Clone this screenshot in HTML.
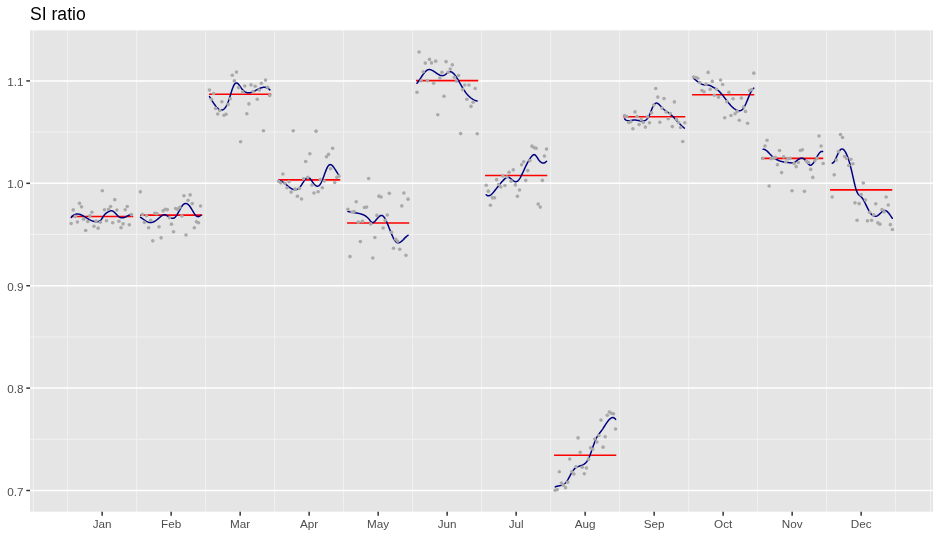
<!DOCTYPE html>
<html><head><meta charset="utf-8"><style>
html,body{margin:0;padding:0;background:#fff;}
svg{display:block;}
.ax{font-family:"Liberation Sans",Arial,sans-serif;font-size:11.7px;fill:#4D4D4D;}
.title{font-family:"Liberation Sans",Arial,sans-serif;font-size:17.6px;fill:#000;}
</style></head><body>
<svg width="940" height="537" viewBox="0 0 940 537">
<rect width="940" height="537" fill="#fff"/>
<rect x="30.0" y="30.4" width="903.0" height="481.3" fill="#E5E5E5"/>
<line x1="30.0" x2="933.0" y1="439.30" y2="439.30" stroke="#F2F2F2" stroke-width="1.0"/>
<line x1="30.0" x2="933.0" y1="336.91" y2="336.91" stroke="#F2F2F2" stroke-width="1.0"/>
<line x1="30.0" x2="933.0" y1="234.53" y2="234.53" stroke="#F2F2F2" stroke-width="1.0"/>
<line x1="30.0" x2="933.0" y1="132.13" y2="132.13" stroke="#F2F2F2" stroke-width="1.0"/>
<line x1="33.40" x2="33.40" y1="30.4" y2="511.7" stroke="#F2F2F2" stroke-width="1.0"/>
<line x1="67.65" x2="67.65" y1="30.4" y2="511.7" stroke="#F2F2F2" stroke-width="1.0"/>
<line x1="136.65" x2="136.65" y1="30.4" y2="511.7" stroke="#F2F2F2" stroke-width="1.0"/>
<line x1="205.65" x2="205.65" y1="30.4" y2="511.7" stroke="#F2F2F2" stroke-width="1.0"/>
<line x1="274.65" x2="274.65" y1="30.4" y2="511.7" stroke="#F2F2F2" stroke-width="1.0"/>
<line x1="343.65" x2="343.65" y1="30.4" y2="511.7" stroke="#F2F2F2" stroke-width="1.0"/>
<line x1="412.65" x2="412.65" y1="30.4" y2="511.7" stroke="#F2F2F2" stroke-width="1.0"/>
<line x1="481.65" x2="481.65" y1="30.4" y2="511.7" stroke="#F2F2F2" stroke-width="1.0"/>
<line x1="550.65" x2="550.65" y1="30.4" y2="511.7" stroke="#F2F2F2" stroke-width="1.0"/>
<line x1="619.65" x2="619.65" y1="30.4" y2="511.7" stroke="#F2F2F2" stroke-width="1.0"/>
<line x1="688.65" x2="688.65" y1="30.4" y2="511.7" stroke="#F2F2F2" stroke-width="1.0"/>
<line x1="757.65" x2="757.65" y1="30.4" y2="511.7" stroke="#F2F2F2" stroke-width="1.0"/>
<line x1="826.65" x2="826.65" y1="30.4" y2="511.7" stroke="#F2F2F2" stroke-width="1.0"/>
<line x1="895.65" x2="895.65" y1="30.4" y2="511.7" stroke="#F2F2F2" stroke-width="1.0"/>
<line x1="930.40" x2="930.40" y1="30.4" y2="511.7" stroke="#F2F2F2" stroke-width="1.0"/>
<line x1="30.0" x2="933.0" y1="490.50" y2="490.50" stroke="#fff" stroke-width="1.5"/>
<line x1="30.0" x2="933.0" y1="388.11" y2="388.11" stroke="#fff" stroke-width="1.5"/>
<line x1="30.0" x2="933.0" y1="285.72" y2="285.72" stroke="#fff" stroke-width="1.5"/>
<line x1="30.0" x2="933.0" y1="183.33" y2="183.33" stroke="#fff" stroke-width="1.5"/>
<line x1="30.0" x2="933.0" y1="80.94" y2="80.94" stroke="#fff" stroke-width="1.5"/>
<line x1="71.05" x2="133.25" y1="216.57" y2="216.57" stroke="#FF0000" stroke-width="1.6"/>
<line x1="140.05" x2="202.25" y1="215.10" y2="215.10" stroke="#FF0000" stroke-width="1.6"/>
<line x1="209.05" x2="271.25" y1="94.32" y2="94.32" stroke="#FF0000" stroke-width="1.6"/>
<line x1="278.05" x2="340.25" y1="179.89" y2="179.89" stroke="#FF0000" stroke-width="1.6"/>
<line x1="347.05" x2="409.25" y1="223.02" y2="223.02" stroke="#FF0000" stroke-width="1.6"/>
<line x1="416.05" x2="478.25" y1="80.59" y2="80.59" stroke="#FF0000" stroke-width="1.6"/>
<line x1="485.05" x2="547.25" y1="175.49" y2="175.49" stroke="#FF0000" stroke-width="1.6"/>
<line x1="554.05" x2="616.25" y1="455.21" y2="455.21" stroke="#FF0000" stroke-width="1.6"/>
<line x1="623.05" x2="685.25" y1="116.73" y2="116.73" stroke="#FF0000" stroke-width="1.6"/>
<line x1="692.05" x2="754.25" y1="94.68" y2="94.68" stroke="#FF0000" stroke-width="1.6"/>
<line x1="761.05" x2="823.25" y1="158.40" y2="158.40" stroke="#FF0000" stroke-width="1.6"/>
<line x1="830.05" x2="892.25" y1="189.83" y2="189.83" stroke="#FF0000" stroke-width="1.6"/>
<path d="M71.17,217.45 L71.68,216.86 L72.19,216.33 L72.69,215.86 L73.20,215.45 L73.71,215.10 L74.22,214.80 L74.72,214.55 L75.23,214.35 L75.74,214.19 L76.25,214.08 L76.76,214.02 L77.26,213.99 L77.77,214.00 L78.28,214.05 L78.79,214.13 L79.30,214.24 L79.80,214.38 L80.31,214.55 L80.82,214.74 L81.33,214.95 L81.83,215.19 L82.34,215.44 L82.85,215.71 L83.36,215.99 L83.87,216.28 L84.37,216.59 L84.88,216.90 L85.39,217.21 L85.90,217.53 L86.40,217.84 L86.91,218.16 L87.42,218.47 L87.93,218.77 L88.44,219.07 L88.94,219.35 L89.45,219.63 L89.96,219.89 L90.47,220.14 L90.98,220.38 L91.48,220.60 L91.99,220.80 L92.50,220.98 L93.01,221.15 L93.51,221.30 L94.02,221.42 L94.53,221.53 L95.04,221.61 L95.55,221.67 L96.05,221.70 L96.56,221.70 L97.07,221.68 L97.58,221.63 L98.09,221.55 L98.59,221.43 L99.10,221.25 L99.61,221.01 L100.12,220.67 L100.62,220.23 L101.13,219.67 L101.64,219.00 L102.15,218.26 L102.66,217.47 L103.16,216.68 L103.67,215.92 L104.18,215.23 L104.69,214.61 L105.19,214.07 L105.70,213.59 L106.21,213.17 L106.72,212.78 L107.23,212.44 L107.73,212.12 L108.24,211.82 L108.75,211.53 L109.26,211.27 L109.77,211.05 L110.27,210.88 L110.78,210.77 L111.29,210.72 L111.80,210.76 L112.30,210.89 L112.81,211.11 L113.32,211.41 L113.83,211.79 L114.34,212.22 L114.84,212.70 L115.35,213.21 L115.86,213.75 L116.37,214.30 L116.87,214.84 L117.38,215.37 L117.89,215.87 L118.40,216.33 L118.91,216.74 L119.41,217.09 L119.92,217.37 L120.43,217.58 L120.94,217.73 L121.45,217.82 L121.95,217.85 L122.46,217.84 L122.97,217.78 L123.48,217.68 L123.98,217.54 L124.49,217.38 L125.00,217.18 L125.51,216.96 L126.02,216.73 L126.52,216.48 L127.03,216.22 L127.54,215.96 L128.05,215.69 L128.56,215.44 L129.06,215.18 L129.57,214.95 L130.08,214.73 L130.59,214.53 L131.09,214.36 L131.60,214.22" fill="none" stroke="#000080" stroke-width="1.5" stroke-linejoin="round" stroke-linecap="round"/>
<path d="M140.50,217.28 L141.01,217.61 L141.52,217.95 L142.02,218.30 L142.53,218.66 L143.04,219.02 L143.54,219.39 L144.05,219.75 L144.56,220.10 L145.06,220.45 L145.57,220.78 L146.07,221.10 L146.58,221.39 L147.09,221.66 L147.59,221.90 L148.10,222.12 L148.61,222.29 L149.11,222.43 L149.62,222.53 L150.13,222.58 L150.63,222.59 L151.14,222.55 L151.65,222.47 L152.15,222.36 L152.66,222.20 L153.16,222.01 L153.67,221.78 L154.18,221.53 L154.68,221.25 L155.19,220.94 L155.70,220.61 L156.20,220.26 L156.71,219.89 L157.22,219.50 L157.72,219.10 L158.23,218.68 L158.74,218.26 L159.24,217.83 L159.75,217.40 L160.26,216.96 L160.76,216.53 L161.27,216.13 L161.77,215.75 L162.28,215.42 L162.79,215.13 L163.29,214.90 L163.80,214.75 L164.31,214.67 L164.81,214.69 L165.32,214.80 L165.83,214.99 L166.33,215.24 L166.84,215.54 L167.35,215.87 L167.85,216.22 L168.36,216.56 L168.87,216.90 L169.37,217.21 L169.88,217.50 L170.38,217.76 L170.89,217.98 L171.40,218.14 L171.90,218.25 L172.41,218.30 L172.92,218.28 L173.42,218.18 L173.93,218.00 L174.44,217.72 L174.94,217.34 L175.45,216.86 L175.96,216.27 L176.46,215.58 L176.97,214.81 L177.47,213.98 L177.98,213.09 L178.49,212.17 L178.99,211.24 L179.50,210.29 L180.01,209.36 L180.51,208.45 L181.02,207.58 L181.53,206.77 L182.03,206.02 L182.54,205.36 L183.05,204.80 L183.55,204.34 L184.06,203.98 L184.57,203.72 L185.07,203.55 L185.58,203.48 L186.08,203.50 L186.59,203.61 L187.10,203.80 L187.60,204.09 L188.11,204.45 L188.62,204.90 L189.12,205.43 L189.63,206.04 L190.14,206.73 L190.64,207.48 L191.15,208.29 L191.66,209.13 L192.16,210.00 L192.67,210.87 L193.18,211.73 L193.68,212.57 L194.19,213.37 L194.69,214.12 L195.20,214.79 L195.71,215.38 L196.21,215.87 L196.72,216.24 L197.23,216.49 L197.73,216.62 L198.24,216.64 L198.75,216.56 L199.25,216.38 L199.76,216.10 L200.27,215.75 L200.77,215.31" fill="none" stroke="#000080" stroke-width="1.5" stroke-linejoin="round" stroke-linecap="round"/>
<path d="M209.52,96.58 L210.03,97.41 L210.53,98.24 L211.04,99.06 L211.55,99.89 L212.05,100.70 L212.56,101.51 L213.07,102.30 L213.58,103.07 L214.08,103.82 L214.59,104.55 L215.10,105.25 L215.60,105.91 L216.11,106.54 L216.62,107.13 L217.12,107.68 L217.63,108.18 L218.14,108.63 L218.64,109.03 L219.15,109.37 L219.66,109.65 L220.16,109.86 L220.67,110.01 L221.18,110.08 L221.69,110.08 L222.19,110.00 L222.70,109.84 L223.21,109.59 L223.71,109.25 L224.22,108.82 L224.73,108.30 L225.23,107.67 L225.74,106.94 L226.25,106.10 L226.75,105.15 L227.26,104.09 L227.77,102.91 L228.27,101.61 L228.78,100.18 L229.29,98.65 L229.80,97.05 L230.30,95.41 L230.81,93.76 L231.32,92.13 L231.82,90.55 L232.33,89.06 L232.84,87.68 L233.34,86.44 L233.85,85.38 L234.36,84.49 L234.86,83.79 L235.37,83.30 L235.88,83.01 L236.39,82.92 L236.89,83.01 L237.40,83.26 L237.91,83.65 L238.41,84.14 L238.92,84.73 L239.43,85.39 L239.93,86.10 L240.44,86.83 L240.95,87.57 L241.45,88.29 L241.96,88.96 L242.47,89.58 L242.97,90.14 L243.48,90.63 L243.99,91.07 L244.50,91.46 L245.00,91.79 L245.51,92.06 L246.02,92.30 L246.52,92.48 L247.03,92.62 L247.54,92.72 L248.04,92.78 L248.55,92.80 L249.06,92.79 L249.56,92.74 L250.07,92.66 L250.58,92.56 L251.09,92.43 L251.59,92.27 L252.10,92.09 L252.61,91.90 L253.11,91.69 L253.62,91.46 L254.13,91.22 L254.63,90.97 L255.14,90.71 L255.65,90.45 L256.15,90.18 L256.66,89.91 L257.17,89.64 L257.67,89.38 L258.18,89.12 L258.69,88.87 L259.20,88.63 L259.70,88.40 L260.21,88.18 L260.72,87.99 L261.22,87.81 L261.73,87.65 L262.24,87.52 L262.74,87.41 L263.25,87.33 L263.76,87.28 L264.26,87.26 L264.77,87.28 L265.28,87.33 L265.78,87.43 L266.29,87.57 L266.80,87.74 L267.31,87.97 L267.81,88.24 L268.32,88.57 L268.83,88.95 L269.33,89.38 L269.84,89.87" fill="none" stroke="#000080" stroke-width="1.5" stroke-linejoin="round" stroke-linecap="round"/>
<path d="M278.75,180.40 L279.25,180.47 L279.76,180.60 L280.26,180.76 L280.77,180.96 L281.27,181.19 L281.78,181.46 L282.28,181.75 L282.79,182.07 L283.29,182.41 L283.80,182.77 L284.30,183.15 L284.81,183.54 L285.31,183.94 L285.82,184.35 L286.32,184.76 L286.82,185.18 L287.33,185.59 L287.83,186.01 L288.34,186.41 L288.84,186.81 L289.35,187.19 L289.85,187.56 L290.36,187.90 L290.86,188.23 L291.37,188.53 L291.87,188.81 L292.38,189.06 L292.88,189.27 L293.39,189.44 L293.89,189.58 L294.40,189.68 L294.90,189.73 L295.40,189.73 L295.91,189.69 L296.41,189.59 L296.92,189.43 L297.42,189.21 L297.93,188.93 L298.43,188.59 L298.94,188.18 L299.44,187.69 L299.95,187.14 L300.45,186.50 L300.96,185.81 L301.46,185.06 L301.97,184.27 L302.47,183.46 L302.98,182.65 L303.48,181.84 L303.98,181.06 L304.49,180.31 L304.99,179.62 L305.50,179.00 L306.00,178.46 L306.51,178.01 L307.01,177.68 L307.52,177.48 L308.02,177.42 L308.53,177.51 L309.03,177.76 L309.54,178.14 L310.04,178.62 L310.55,179.20 L311.05,179.85 L311.56,180.55 L312.06,181.27 L312.56,182.00 L313.07,182.71 L313.57,183.39 L314.08,184.01 L314.58,184.57 L315.09,185.07 L315.59,185.48 L316.10,185.81 L316.60,186.05 L317.11,186.18 L317.61,186.21 L318.12,186.12 L318.62,185.91 L319.13,185.57 L319.63,185.08 L320.14,184.46 L320.64,183.68 L321.14,182.75 L321.65,181.71 L322.15,180.56 L322.66,179.32 L323.16,178.01 L323.67,176.65 L324.17,175.26 L324.68,173.86 L325.18,172.48 L325.69,171.14 L326.19,169.87 L326.70,168.69 L327.20,167.62 L327.71,166.69 L328.21,165.92 L328.72,165.33 L329.22,164.92 L329.72,164.68 L330.23,164.59 L330.73,164.65 L331.24,164.85 L331.74,165.16 L332.25,165.58 L332.75,166.09 L333.26,166.68 L333.76,167.34 L334.27,168.06 L334.77,168.82 L335.28,169.61 L335.78,170.41 L336.29,171.23 L336.79,172.03 L337.30,172.81 L337.80,173.56 L338.30,174.27 L338.81,174.91" fill="none" stroke="#000080" stroke-width="1.5" stroke-linejoin="round" stroke-linecap="round"/>
<path d="M347.95,211.47 L348.46,211.59 L348.96,211.69 L349.47,211.80 L349.97,211.89 L350.48,211.98 L350.98,212.07 L351.49,212.16 L351.99,212.24 L352.50,212.32 L353.00,212.40 L353.51,212.48 L354.01,212.56 L354.52,212.64 L355.02,212.73 L355.53,212.81 L356.03,212.90 L356.54,212.99 L357.04,213.08 L357.55,213.18 L358.05,213.28 L358.56,213.39 L359.06,213.50 L359.57,213.62 L360.07,213.75 L360.58,213.89 L361.08,214.04 L361.59,214.19 L362.09,214.36 L362.60,214.54 L363.10,214.74 L363.61,214.95 L364.11,215.19 L364.62,215.46 L365.12,215.75 L365.63,216.07 L366.13,216.42 L366.64,216.81 L367.14,217.24 L367.65,217.71 L368.15,218.22 L368.66,218.77 L369.16,219.38 L369.67,220.03 L370.17,220.69 L370.68,221.31 L371.18,221.86 L371.69,222.29 L372.19,222.55 L372.70,222.63 L373.20,222.53 L373.71,222.29 L374.21,221.92 L374.72,221.47 L375.22,220.94 L375.73,220.37 L376.23,219.78 L376.74,219.18 L377.24,218.58 L377.75,218.00 L378.25,217.45 L378.76,216.93 L379.26,216.47 L379.77,216.08 L380.27,215.77 L380.78,215.55 L381.28,215.43 L381.79,215.44 L382.29,215.57 L382.80,215.86 L383.30,216.28 L383.81,216.83 L384.31,217.50 L384.82,218.28 L385.32,219.15 L385.83,220.12 L386.33,221.16 L386.84,222.27 L387.34,223.44 L387.85,224.65 L388.35,225.90 L388.86,227.18 L389.36,228.47 L389.87,229.76 L390.37,231.05 L390.88,232.32 L391.38,233.57 L391.89,234.78 L392.39,235.94 L392.90,237.04 L393.40,238.07 L393.91,239.03 L394.41,239.89 L394.92,240.66 L395.42,241.31 L395.93,241.85 L396.43,242.26 L396.94,242.56 L397.44,242.75 L397.95,242.84 L398.45,242.84 L398.96,242.75 L399.46,242.59 L399.97,242.36 L400.47,242.06 L400.98,241.71 L401.48,241.32 L401.99,240.88 L402.49,240.41 L403.00,239.92 L403.50,239.41 L404.01,238.89 L404.51,238.37 L405.02,237.85 L405.52,237.34 L406.03,236.86 L406.53,236.40 L407.04,235.98 L407.54,235.61 L408.05,235.28" fill="none" stroke="#000080" stroke-width="1.5" stroke-linejoin="round" stroke-linecap="round"/>
<path d="M416.95,83.32 L417.46,82.68 L417.96,82.01 L418.47,81.30 L418.97,80.58 L419.48,79.83 L419.98,79.07 L420.49,78.30 L420.99,77.54 L421.50,76.77 L422.00,76.02 L422.51,75.28 L423.01,74.56 L423.52,73.87 L424.02,73.20 L424.53,72.58 L425.03,72.00 L425.54,71.47 L426.04,71.00 L426.55,70.58 L427.05,70.23 L427.56,69.96 L428.06,69.76 L428.57,69.63 L429.07,69.56 L429.58,69.56 L430.08,69.62 L430.59,69.73 L431.09,69.89 L431.60,70.09 L432.10,70.32 L432.61,70.59 L433.11,70.88 L433.62,71.20 L434.12,71.53 L434.63,71.87 L435.13,72.22 L435.64,72.58 L436.14,72.93 L436.65,73.28 L437.15,73.61 L437.66,73.94 L438.16,74.25 L438.67,74.53 L439.17,74.80 L439.68,75.03 L440.18,75.23 L440.69,75.40 L441.19,75.53 L441.70,75.61 L442.20,75.64 L442.71,75.62 L443.21,75.55 L443.72,75.41 L444.22,75.21 L444.73,74.95 L445.23,74.63 L445.74,74.27 L446.24,73.88 L446.75,73.48 L447.25,73.09 L447.76,72.72 L448.26,72.39 L448.77,72.11 L449.27,71.90 L449.78,71.77 L450.28,71.74 L450.79,71.79 L451.29,71.93 L451.80,72.16 L452.30,72.46 L452.81,72.83 L453.31,73.27 L453.82,73.77 L454.32,74.33 L454.83,74.94 L455.33,75.60 L455.84,76.31 L456.34,77.05 L456.85,77.84 L457.35,78.65 L457.86,79.49 L458.36,80.35 L458.87,81.23 L459.37,82.12 L459.88,83.02 L460.38,83.92 L460.89,84.82 L461.39,85.71 L461.90,86.60 L462.40,87.47 L462.91,88.32 L463.41,89.15 L463.92,89.95 L464.42,90.71 L464.93,91.45 L465.43,92.15 L465.94,92.83 L466.44,93.47 L466.95,94.09 L467.45,94.67 L467.96,95.23 L468.46,95.76 L468.97,96.26 L469.47,96.74 L469.98,97.19 L470.48,97.61 L470.99,98.01 L471.49,98.38 L472.00,98.73 L472.50,99.06 L473.01,99.36 L473.51,99.63 L474.02,99.89 L474.52,100.12 L475.03,100.33 L475.53,100.52 L476.04,100.69 L476.54,100.84 L477.05,100.97" fill="none" stroke="#000080" stroke-width="1.5" stroke-linejoin="round" stroke-linecap="round"/>
<path d="M486.20,194.76 L486.70,195.20 L487.21,195.51 L487.72,195.71 L488.23,195.80 L488.73,195.80 L489.24,195.70 L489.75,195.52 L490.25,195.26 L490.76,194.93 L491.27,194.54 L491.78,194.09 L492.28,193.59 L492.79,193.04 L493.30,192.47 L493.80,191.86 L494.31,191.23 L494.82,190.59 L495.33,189.94 L495.83,189.29 L496.34,188.64 L496.85,187.98 L497.36,187.33 L497.86,186.69 L498.37,186.04 L498.88,185.41 L499.38,184.77 L499.89,184.15 L500.40,183.54 L500.91,182.94 L501.41,182.34 L501.92,181.77 L502.43,181.20 L502.93,180.66 L503.44,180.13 L503.95,179.62 L504.46,179.12 L504.96,178.66 L505.47,178.24 L505.98,177.87 L506.49,177.57 L506.99,177.34 L507.50,177.20 L508.01,177.16 L508.51,177.24 L509.02,177.43 L509.53,177.73 L510.04,178.09 L510.54,178.50 L511.05,178.93 L511.56,179.37 L512.06,179.79 L512.57,180.19 L513.08,180.56 L513.59,180.90 L514.09,181.19 L514.60,181.42 L515.11,181.58 L515.61,181.66 L516.12,181.66 L516.63,181.56 L517.14,181.35 L517.64,181.02 L518.15,180.58 L518.66,180.02 L519.17,179.37 L519.67,178.62 L520.18,177.80 L520.69,176.90 L521.19,175.94 L521.70,174.93 L522.21,173.88 L522.72,172.80 L523.22,171.70 L523.73,170.59 L524.24,169.48 L524.74,168.37 L525.25,167.28 L525.76,166.22 L526.27,165.19 L526.77,164.18 L527.28,163.20 L527.79,162.26 L528.29,161.35 L528.80,160.48 L529.31,159.65 L529.82,158.86 L530.32,158.11 L530.83,157.41 L531.34,156.75 L531.85,156.15 L532.35,155.60 L532.86,155.14 L533.37,154.79 L533.87,154.61 L534.38,154.63 L534.89,154.82 L535.40,155.19 L535.90,155.70 L536.41,156.35 L536.92,157.10 L537.42,157.89 L537.93,158.70 L538.44,159.48 L538.95,160.18 L539.45,160.81 L539.96,161.36 L540.47,161.84 L540.98,162.24 L541.48,162.56 L541.99,162.80 L542.50,162.96 L543.00,163.04 L543.51,163.04 L544.02,162.96 L544.53,162.79 L545.03,162.54 L545.54,162.21 L546.05,161.78 L546.55,161.27" fill="none" stroke="#000080" stroke-width="1.5" stroke-linejoin="round" stroke-linecap="round"/>
<path d="M555.22,486.91 L555.72,486.68 L556.23,486.49 L556.74,486.33 L557.25,486.20 L557.76,486.08 L558.26,485.98 L558.77,485.89 L559.28,485.81 L559.79,485.72 L560.29,485.63 L560.80,485.52 L561.31,485.39 L561.82,485.24 L562.33,485.06 L562.83,484.84 L563.34,484.58 L563.85,484.28 L564.36,483.92 L564.86,483.51 L565.37,483.03 L565.88,482.49 L566.39,481.87 L566.90,481.17 L567.40,480.39 L567.91,479.55 L568.42,478.66 L568.93,477.73 L569.43,476.78 L569.94,475.82 L570.45,474.87 L570.96,473.93 L571.46,473.02 L571.97,472.16 L572.48,471.36 L572.99,470.64 L573.50,469.98 L574.00,469.40 L574.51,468.88 L575.02,468.42 L575.53,468.01 L576.03,467.65 L576.54,467.34 L577.05,467.06 L577.56,466.81 L578.07,466.59 L578.57,466.39 L579.08,466.21 L579.59,466.04 L580.10,465.87 L580.60,465.71 L581.11,465.53 L581.62,465.35 L582.13,465.16 L582.64,464.94 L583.14,464.69 L583.65,464.42 L584.16,464.10 L584.67,463.73 L585.17,463.31 L585.68,462.83 L586.19,462.28 L586.70,461.66 L587.21,460.95 L587.71,460.15 L588.22,459.25 L588.73,458.25 L589.24,457.13 L589.74,455.91 L590.25,454.60 L590.76,453.22 L591.27,451.79 L591.78,450.32 L592.28,448.83 L592.79,447.33 L593.30,445.85 L593.81,444.40 L594.31,443.00 L594.82,441.66 L595.33,440.41 L595.84,439.25 L596.35,438.20 L596.85,437.25 L597.36,436.39 L597.87,435.59 L598.38,434.84 L598.88,434.13 L599.39,433.45 L599.90,432.79 L600.41,432.13 L600.92,431.46 L601.42,430.78 L601.93,430.08 L602.44,429.34 L602.95,428.59 L603.45,427.81 L603.96,427.02 L604.47,426.23 L604.98,425.43 L605.49,424.64 L605.99,423.86 L606.50,423.10 L607.01,422.37 L607.52,421.66 L608.02,420.99 L608.53,420.36 L609.04,419.78 L609.55,419.26 L610.06,418.79 L610.56,418.39 L611.07,418.07 L611.58,417.82 L612.09,417.65 L612.59,417.58 L613.10,417.60 L613.61,417.72 L614.12,417.96 L614.63,418.31 L615.13,418.77 L615.64,419.37" fill="none" stroke="#000080" stroke-width="1.5" stroke-linejoin="round" stroke-linecap="round"/>
<path d="M624.61,118.91 L625.12,119.39 L625.62,119.80 L626.12,120.12 L626.62,120.37 L627.13,120.55 L627.63,120.68 L628.13,120.75 L628.63,120.78 L629.13,120.77 L629.64,120.72 L630.14,120.66 L630.64,120.57 L631.14,120.47 L631.65,120.37 L632.15,120.27 L632.65,120.18 L633.15,120.10 L633.66,120.05 L634.16,120.02 L634.66,120.02 L635.16,120.04 L635.67,120.09 L636.17,120.15 L636.67,120.22 L637.17,120.31 L637.68,120.40 L638.18,120.50 L638.68,120.60 L639.18,120.70 L639.68,120.79 L640.19,120.88 L640.69,120.95 L641.19,121.01 L641.69,121.05 L642.20,121.07 L642.70,121.07 L643.20,121.03 L643.70,120.96 L644.21,120.85 L644.71,120.69 L645.21,120.46 L645.71,120.16 L646.22,119.79 L646.72,119.34 L647.22,118.79 L647.72,118.14 L648.23,117.38 L648.73,116.51 L649.23,115.51 L649.73,114.39 L650.24,113.17 L650.74,111.90 L651.24,110.62 L651.74,109.35 L652.24,108.14 L652.75,107.03 L653.25,106.04 L653.75,105.18 L654.25,104.47 L654.76,103.90 L655.26,103.49 L655.76,103.23 L656.26,103.11 L656.77,103.12 L657.27,103.26 L657.77,103.49 L658.27,103.81 L658.78,104.21 L659.28,104.67 L659.78,105.17 L660.28,105.71 L660.79,106.27 L661.29,106.83 L661.79,107.38 L662.29,107.91 L662.79,108.41 L663.30,108.87 L663.80,109.31 L664.30,109.73 L664.80,110.12 L665.31,110.50 L665.81,110.86 L666.31,111.22 L666.81,111.57 L667.32,111.92 L667.82,112.28 L668.32,112.64 L668.82,113.00 L669.33,113.39 L669.83,113.78 L670.33,114.20 L670.83,114.64 L671.34,115.10 L671.84,115.57 L672.34,116.05 L672.84,116.55 L673.35,117.06 L673.85,117.58 L674.35,118.11 L674.85,118.65 L675.35,119.19 L675.86,119.74 L676.36,120.28 L676.86,120.83 L677.36,121.38 L677.87,121.93 L678.37,122.47 L678.87,123.00 L679.37,123.53 L679.88,124.05 L680.38,124.56 L680.88,125.06 L681.38,125.55 L681.89,126.02 L682.39,126.47 L682.89,126.91 L683.39,127.32 L683.90,127.72 L684.40,128.10" fill="none" stroke="#000080" stroke-width="1.5" stroke-linejoin="round" stroke-linecap="round"/>
<path d="M693.61,78.36 L694.12,78.78 L694.62,79.19 L695.13,79.61 L695.64,80.02 L696.14,80.42 L696.65,80.82 L697.15,81.22 L697.66,81.60 L698.16,81.97 L698.67,82.32 L699.17,82.66 L699.68,82.99 L700.19,83.29 L700.69,83.58 L701.20,83.84 L701.70,84.07 L702.21,84.29 L702.71,84.47 L703.22,84.62 L703.72,84.74 L704.23,84.83 L704.74,84.89 L705.24,84.92 L705.75,84.94 L706.25,84.95 L706.76,84.96 L707.26,84.98 L707.77,85.01 L708.28,85.07 L708.78,85.15 L709.29,85.28 L709.79,85.45 L710.30,85.66 L710.80,85.91 L711.31,86.18 L711.81,86.46 L712.32,86.73 L712.83,87.01 L713.33,87.29 L713.84,87.57 L714.34,87.86 L714.85,88.15 L715.35,88.46 L715.86,88.79 L716.36,89.12 L716.87,89.48 L717.38,89.86 L717.88,90.26 L718.39,90.68 L718.89,91.13 L719.40,91.61 L719.90,92.12 L720.41,92.65 L720.91,93.21 L721.42,93.79 L721.93,94.39 L722.43,95.01 L722.94,95.64 L723.44,96.29 L723.95,96.94 L724.45,97.60 L724.96,98.26 L725.46,98.92 L725.97,99.58 L726.48,100.24 L726.98,100.89 L727.49,101.54 L727.99,102.17 L728.50,102.79 L729.00,103.40 L729.51,104.00 L730.02,104.58 L730.52,105.15 L731.03,105.69 L731.53,106.22 L732.04,106.72 L732.54,107.20 L733.05,107.66 L733.55,108.10 L734.06,108.50 L734.57,108.88 L735.07,109.23 L735.58,109.55 L736.08,109.84 L736.59,110.09 L737.09,110.31 L737.60,110.49 L738.10,110.63 L738.61,110.72 L739.12,110.76 L739.62,110.75 L740.13,110.67 L740.63,110.53 L741.14,110.32 L741.64,110.03 L742.15,109.66 L742.65,109.19 L743.16,108.61 L743.67,107.91 L744.17,107.10 L744.68,106.19 L745.18,105.19 L745.69,104.11 L746.19,102.98 L746.70,101.80 L747.21,100.59 L747.71,99.36 L748.22,98.12 L748.72,96.89 L749.23,95.69 L749.73,94.53 L750.24,93.41 L750.74,92.36 L751.25,91.38 L751.76,90.50 L752.26,89.72 L752.77,89.06 L753.27,88.54 L753.78,88.16" fill="none" stroke="#000080" stroke-width="1.5" stroke-linejoin="round" stroke-linecap="round"/>
<path d="M763.12,149.32 L763.62,149.30 L764.12,149.36 L764.62,149.51 L765.12,149.72 L765.62,150.00 L766.12,150.34 L766.62,150.73 L767.12,151.15 L767.62,151.62 L768.12,152.11 L768.62,152.63 L769.12,153.15 L769.62,153.69 L770.12,154.22 L770.62,154.74 L771.12,155.25 L771.62,155.74 L772.12,156.21 L772.62,156.66 L773.12,157.08 L773.63,157.49 L774.13,157.87 L774.63,158.23 L775.13,158.58 L775.63,158.91 L776.13,159.21 L776.63,159.50 L777.13,159.78 L777.63,160.03 L778.13,160.27 L778.63,160.49 L779.13,160.70 L779.63,160.89 L780.13,161.07 L780.63,161.23 L781.13,161.38 L781.63,161.51 L782.13,161.64 L782.63,161.75 L783.13,161.85 L783.63,161.95 L784.13,162.03 L784.63,162.11 L785.13,162.19 L785.63,162.26 L786.13,162.32 L786.63,162.38 L787.13,162.44 L787.63,162.49 L788.13,162.55 L788.63,162.60 L789.13,162.66 L789.63,162.72 L790.13,162.78 L790.63,162.83 L791.13,162.87 L791.63,162.89 L792.13,162.89 L792.64,162.85 L793.14,162.77 L793.64,162.65 L794.14,162.47 L794.64,162.23 L795.14,161.93 L795.64,161.58 L796.14,161.20 L796.64,160.80 L797.14,160.40 L797.64,160.02 L798.14,159.65 L798.64,159.30 L799.14,158.99 L799.64,158.71 L800.14,158.48 L800.64,158.31 L801.14,158.19 L801.64,158.13 L802.14,158.15 L802.64,158.24 L803.14,158.42 L803.64,158.70 L804.14,159.07 L804.64,159.53 L805.14,160.08 L805.64,160.68 L806.14,161.31 L806.64,161.97 L807.14,162.61 L807.64,163.23 L808.14,163.80 L808.64,164.30 L809.14,164.71 L809.64,165.00 L810.14,165.17 L810.64,165.18 L811.14,165.04 L811.65,164.75 L812.15,164.34 L812.65,163.82 L813.15,163.20 L813.65,162.50 L814.15,161.73 L814.65,160.91 L815.15,160.04 L815.65,159.15 L816.15,158.25 L816.65,157.36 L817.15,156.48 L817.65,155.63 L818.15,154.82 L818.65,154.06 L819.15,153.37 L819.65,152.76 L820.15,152.25 L820.65,151.84 L821.15,151.54 L821.65,151.38 L822.15,151.36 L822.65,151.50" fill="none" stroke="#000080" stroke-width="1.5" stroke-linejoin="round" stroke-linecap="round"/>
<path d="M832.22,163.18 L832.72,163.07 L833.23,162.74 L833.73,162.21 L834.24,161.51 L834.74,160.67 L835.25,159.71 L835.76,158.67 L836.26,157.56 L836.77,156.43 L837.27,155.29 L837.78,154.17 L838.28,153.10 L838.79,152.10 L839.29,151.21 L839.80,150.45 L840.30,149.85 L840.81,149.40 L841.31,149.12 L841.82,148.98 L842.32,148.99 L842.83,149.14 L843.33,149.44 L843.84,149.86 L844.34,150.42 L844.85,151.10 L845.36,151.90 L845.86,152.82 L846.37,153.85 L846.87,154.99 L847.38,156.23 L847.88,157.58 L848.39,159.03 L848.89,160.59 L849.40,162.26 L849.90,164.04 L850.41,165.94 L850.91,167.95 L851.42,170.04 L851.92,172.20 L852.43,174.41 L852.93,176.65 L853.44,178.89 L853.94,181.12 L854.45,183.29 L854.95,185.37 L855.46,187.31 L855.97,189.08 L856.47,190.63 L856.98,191.94 L857.48,193.00 L857.99,193.83 L858.49,194.49 L859.00,195.02 L859.50,195.46 L860.01,195.85 L860.51,196.24 L861.02,196.66 L861.52,197.16 L862.03,197.76 L862.53,198.46 L863.04,199.25 L863.54,200.11 L864.05,201.03 L864.55,202.00 L865.06,203.01 L865.57,204.05 L866.07,205.10 L866.58,206.15 L867.08,207.19 L867.59,208.21 L868.09,209.20 L868.60,210.15 L869.10,211.04 L869.61,211.86 L870.11,212.61 L870.62,213.30 L871.12,213.92 L871.63,214.46 L872.13,214.94 L872.64,215.35 L873.14,215.69 L873.65,215.96 L874.15,216.16 L874.66,216.29 L875.16,216.35 L875.67,216.34 L876.18,216.26 L876.68,216.10 L877.19,215.88 L877.69,215.58 L878.20,215.23 L878.70,214.82 L879.21,214.38 L879.71,213.91 L880.22,213.42 L880.72,212.94 L881.23,212.46 L881.73,212.01 L882.24,211.60 L882.74,211.23 L883.25,210.92 L883.75,210.68 L884.26,210.52 L884.76,210.46 L885.27,210.50 L885.78,210.65 L886.28,210.90 L886.79,211.24 L887.29,211.66 L887.80,212.15 L888.30,212.70 L888.81,213.31 L889.31,213.96 L889.82,214.65 L890.32,215.36 L890.83,216.09 L891.33,216.83 L891.84,217.57 L892.34,218.30" fill="none" stroke="#000080" stroke-width="1.5" stroke-linejoin="round" stroke-linecap="round"/>
<g fill="#A9A9A9"><circle cx="71.15" cy="223.53" r="1.8"/><circle cx="73.23" cy="209.91" r="1.8"/><circle cx="75.30" cy="216.36" r="1.8"/><circle cx="77.38" cy="222.00" r="1.8"/><circle cx="79.46" cy="203.35" r="1.8"/><circle cx="81.54" cy="206.84" r="1.8"/><circle cx="83.62" cy="219.23" r="1.8"/><circle cx="85.69" cy="230.50" r="1.8"/><circle cx="87.77" cy="221.48" r="1.8"/><circle cx="89.85" cy="215.85" r="1.8"/><circle cx="91.93" cy="212.26" r="1.8"/><circle cx="94.00" cy="226.30" r="1.8"/><circle cx="96.08" cy="220.97" r="1.8"/><circle cx="98.16" cy="228.14" r="1.8"/><circle cx="100.24" cy="222.20" r="1.8"/><circle cx="102.32" cy="190.75" r="1.8"/><circle cx="104.39" cy="209.70" r="1.8"/><circle cx="106.47" cy="220.77" r="1.8"/><circle cx="108.55" cy="209.19" r="1.8"/><circle cx="110.63" cy="206.43" r="1.8"/><circle cx="112.70" cy="222.81" r="1.8"/><circle cx="114.78" cy="199.67" r="1.8"/><circle cx="116.86" cy="210.01" r="1.8"/><circle cx="118.94" cy="221.28" r="1.8"/><circle cx="121.02" cy="227.63" r="1.8"/><circle cx="123.09" cy="223.84" r="1.8"/><circle cx="125.17" cy="209.70" r="1.8"/><circle cx="127.25" cy="206.43" r="1.8"/><circle cx="129.33" cy="224.76" r="1.8"/><circle cx="131.41" cy="214.62" r="1.8"/><circle cx="140.31" cy="191.86" r="1.8"/><circle cx="142.39" cy="214.49" r="1.8"/><circle cx="144.47" cy="222.36" r="1.8"/><circle cx="146.54" cy="215.70" r="1.8"/><circle cx="148.62" cy="227.80" r="1.8"/><circle cx="150.70" cy="220.18" r="1.8"/><circle cx="152.78" cy="240.87" r="1.8"/><circle cx="154.85" cy="213.28" r="1.8"/><circle cx="156.93" cy="213.64" r="1.8"/><circle cx="159.01" cy="226.84" r="1.8"/><circle cx="161.08" cy="237.85" r="1.8"/><circle cx="163.16" cy="210.86" r="1.8"/><circle cx="165.24" cy="209.29" r="1.8"/><circle cx="167.32" cy="209.65" r="1.8"/><circle cx="169.39" cy="217.76" r="1.8"/><circle cx="171.47" cy="224.17" r="1.8"/><circle cx="173.55" cy="231.80" r="1.8"/><circle cx="175.62" cy="208.44" r="1.8"/><circle cx="177.70" cy="209.41" r="1.8"/><circle cx="179.78" cy="207.23" r="1.8"/><circle cx="181.86" cy="216.06" r="1.8"/><circle cx="183.93" cy="195.73" r="1.8"/><circle cx="186.01" cy="235.06" r="1.8"/><circle cx="188.09" cy="200.33" r="1.8"/><circle cx="190.16" cy="194.89" r="1.8"/><circle cx="192.24" cy="203.60" r="1.8"/><circle cx="194.32" cy="227.80" r="1.8"/><circle cx="196.40" cy="221.75" r="1.8"/><circle cx="198.47" cy="222.72" r="1.8"/><circle cx="200.55" cy="206.02" r="1.8"/><circle cx="209.44" cy="90.00" r="1.8"/><circle cx="211.52" cy="99.28" r="1.8"/><circle cx="213.59" cy="93.52" r="1.8"/><circle cx="215.67" cy="108.40" r="1.8"/><circle cx="217.75" cy="114.00" r="1.8"/><circle cx="219.83" cy="110.48" r="1.8"/><circle cx="221.90" cy="101.68" r="1.8"/><circle cx="223.98" cy="115.28" r="1.8"/><circle cx="226.06" cy="114.32" r="1.8"/><circle cx="228.14" cy="104.40" r="1.8"/><circle cx="230.21" cy="98.80" r="1.8"/><circle cx="232.29" cy="75.28" r="1.8"/><circle cx="234.37" cy="80.88" r="1.8"/><circle cx="236.45" cy="72.08" r="1.8"/><circle cx="238.52" cy="87.60" r="1.8"/><circle cx="240.60" cy="141.68" r="1.8"/><circle cx="242.68" cy="91.92" r="1.8"/><circle cx="244.76" cy="86.00" r="1.8"/><circle cx="246.83" cy="113.68" r="1.8"/><circle cx="248.91" cy="103.92" r="1.8"/><circle cx="250.99" cy="84.88" r="1.8"/><circle cx="253.07" cy="91.60" r="1.8"/><circle cx="255.14" cy="86.32" r="1.8"/><circle cx="257.22" cy="99.28" r="1.8"/><circle cx="259.30" cy="90.00" r="1.8"/><circle cx="261.38" cy="83.28" r="1.8"/><circle cx="263.45" cy="130.80" r="1.8"/><circle cx="265.53" cy="80.08" r="1.8"/><circle cx="267.61" cy="87.28" r="1.8"/><circle cx="269.69" cy="95.60" r="1.8"/><circle cx="278.71" cy="181.38" r="1.8"/><circle cx="280.78" cy="182.87" r="1.8"/><circle cx="282.86" cy="173.93" r="1.8"/><circle cx="284.94" cy="183.31" r="1.8"/><circle cx="287.01" cy="187.79" r="1.8"/><circle cx="289.09" cy="181.82" r="1.8"/><circle cx="291.16" cy="192.11" r="1.8"/><circle cx="293.24" cy="130.71" r="1.8"/><circle cx="295.31" cy="189.13" r="1.8"/><circle cx="297.39" cy="196.28" r="1.8"/><circle cx="299.46" cy="188.38" r="1.8"/><circle cx="301.54" cy="198.96" r="1.8"/><circle cx="303.62" cy="178.84" r="1.8"/><circle cx="305.69" cy="161.56" r="1.8"/><circle cx="307.77" cy="177.35" r="1.8"/><circle cx="309.84" cy="153.81" r="1.8"/><circle cx="311.92" cy="185.10" r="1.8"/><circle cx="313.99" cy="193.00" r="1.8"/><circle cx="316.07" cy="131.15" r="1.8"/><circle cx="318.14" cy="191.81" r="1.8"/><circle cx="320.22" cy="179.59" r="1.8"/><circle cx="322.30" cy="187.79" r="1.8"/><circle cx="324.37" cy="180.93" r="1.8"/><circle cx="326.45" cy="156.79" r="1.8"/><circle cx="328.52" cy="154.40" r="1.8"/><circle cx="330.60" cy="168.71" r="1.8"/><circle cx="332.67" cy="148.29" r="1.8"/><circle cx="334.75" cy="182.57" r="1.8"/><circle cx="336.82" cy="177.35" r="1.8"/><circle cx="338.90" cy="176.16" r="1.8"/><circle cx="347.92" cy="209.24" r="1.8"/><circle cx="350.00" cy="256.60" r="1.8"/><circle cx="352.07" cy="212.06" r="1.8"/><circle cx="354.14" cy="211.53" r="1.8"/><circle cx="356.21" cy="201.81" r="1.8"/><circle cx="358.29" cy="222.14" r="1.8"/><circle cx="360.36" cy="241.58" r="1.8"/><circle cx="362.43" cy="221.25" r="1.8"/><circle cx="364.50" cy="207.47" r="1.8"/><circle cx="366.58" cy="207.12" r="1.8"/><circle cx="368.65" cy="178.48" r="1.8"/><circle cx="370.72" cy="223.91" r="1.8"/><circle cx="372.79" cy="258.02" r="1.8"/><circle cx="374.87" cy="237.52" r="1.8"/><circle cx="376.94" cy="215.42" r="1.8"/><circle cx="379.01" cy="196.16" r="1.8"/><circle cx="381.08" cy="197.04" r="1.8"/><circle cx="383.16" cy="227.97" r="1.8"/><circle cx="385.23" cy="220.37" r="1.8"/><circle cx="387.30" cy="215.07" r="1.8"/><circle cx="389.37" cy="193.33" r="1.8"/><circle cx="391.45" cy="232.21" r="1.8"/><circle cx="393.52" cy="248.30" r="1.8"/><circle cx="395.59" cy="239.28" r="1.8"/><circle cx="397.66" cy="241.23" r="1.8"/><circle cx="399.74" cy="249.18" r="1.8"/><circle cx="401.81" cy="205.88" r="1.8"/><circle cx="403.88" cy="192.98" r="1.8"/><circle cx="405.95" cy="255.37" r="1.8"/><circle cx="408.03" cy="199.16" r="1.8"/><circle cx="417.00" cy="92.25" r="1.8"/><circle cx="419.08" cy="51.95" r="1.8"/><circle cx="421.16" cy="80.76" r="1.8"/><circle cx="423.24" cy="71.75" r="1.8"/><circle cx="425.31" cy="63.09" r="1.8"/><circle cx="427.39" cy="80.76" r="1.8"/><circle cx="429.47" cy="59.38" r="1.8"/><circle cx="431.54" cy="62.91" r="1.8"/><circle cx="433.62" cy="83.24" r="1.8"/><circle cx="435.70" cy="61.14" r="1.8"/><circle cx="437.78" cy="114.70" r="1.8"/><circle cx="439.85" cy="78.11" r="1.8"/><circle cx="441.93" cy="72.28" r="1.8"/><circle cx="444.01" cy="96.32" r="1.8"/><circle cx="446.08" cy="61.67" r="1.8"/><circle cx="448.16" cy="72.28" r="1.8"/><circle cx="450.24" cy="69.10" r="1.8"/><circle cx="452.32" cy="64.86" r="1.8"/><circle cx="454.39" cy="77.23" r="1.8"/><circle cx="456.47" cy="81.12" r="1.8"/><circle cx="458.55" cy="75.46" r="1.8"/><circle cx="460.62" cy="133.61" r="1.8"/><circle cx="462.70" cy="89.60" r="1.8"/><circle cx="464.78" cy="85.00" r="1.8"/><circle cx="466.86" cy="99.32" r="1.8"/><circle cx="468.93" cy="85.00" r="1.8"/><circle cx="471.01" cy="106.39" r="1.8"/><circle cx="473.09" cy="102.32" r="1.8"/><circle cx="475.17" cy="88.54" r="1.8"/><circle cx="477.24" cy="133.78" r="1.8"/><circle cx="486.23" cy="185.18" r="1.8"/><circle cx="488.31" cy="191.14" r="1.8"/><circle cx="490.39" cy="205.30" r="1.8"/><circle cx="492.47" cy="197.85" r="1.8"/><circle cx="494.55" cy="197.85" r="1.8"/><circle cx="496.63" cy="179.67" r="1.8"/><circle cx="498.70" cy="184.44" r="1.8"/><circle cx="500.78" cy="186.97" r="1.8"/><circle cx="502.86" cy="175.94" r="1.8"/><circle cx="504.94" cy="185.48" r="1.8"/><circle cx="507.02" cy="176.98" r="1.8"/><circle cx="509.10" cy="172.21" r="1.8"/><circle cx="511.18" cy="181.16" r="1.8"/><circle cx="513.26" cy="169.83" r="1.8"/><circle cx="515.34" cy="184.88" r="1.8"/><circle cx="517.42" cy="196.36" r="1.8"/><circle cx="519.49" cy="189.95" r="1.8"/><circle cx="521.57" cy="164.76" r="1.8"/><circle cx="523.65" cy="161.78" r="1.8"/><circle cx="525.73" cy="180.41" r="1.8"/><circle cx="527.81" cy="170.58" r="1.8"/><circle cx="529.89" cy="160.59" r="1.8"/><circle cx="531.97" cy="146.13" r="1.8"/><circle cx="534.05" cy="147.62" r="1.8"/><circle cx="536.13" cy="148.22" r="1.8"/><circle cx="538.20" cy="204.11" r="1.8"/><circle cx="540.28" cy="207.09" r="1.8"/><circle cx="542.36" cy="180.41" r="1.8"/><circle cx="544.44" cy="156.12" r="1.8"/><circle cx="546.52" cy="149.11" r="1.8"/><circle cx="555.15" cy="490.30" r="1.8"/><circle cx="557.24" cy="489.44" r="1.8"/><circle cx="559.32" cy="471.81" r="1.8"/><circle cx="561.40" cy="483.11" r="1.8"/><circle cx="563.49" cy="485.16" r="1.8"/><circle cx="565.57" cy="487.73" r="1.8"/><circle cx="567.66" cy="482.25" r="1.8"/><circle cx="569.74" cy="458.97" r="1.8"/><circle cx="571.82" cy="471.81" r="1.8"/><circle cx="573.91" cy="474.04" r="1.8"/><circle cx="575.99" cy="466.68" r="1.8"/><circle cx="578.07" cy="437.92" r="1.8"/><circle cx="580.16" cy="452.30" r="1.8"/><circle cx="582.24" cy="467.19" r="1.8"/><circle cx="584.32" cy="473.69" r="1.8"/><circle cx="586.41" cy="468.05" r="1.8"/><circle cx="588.49" cy="459.15" r="1.8"/><circle cx="590.57" cy="447.85" r="1.8"/><circle cx="592.66" cy="449.22" r="1.8"/><circle cx="594.74" cy="438.95" r="1.8"/><circle cx="596.83" cy="442.03" r="1.8"/><circle cx="598.91" cy="435.52" r="1.8"/><circle cx="600.99" cy="420.12" r="1.8"/><circle cx="603.08" cy="447.16" r="1.8"/><circle cx="605.16" cy="436.72" r="1.8"/><circle cx="607.24" cy="415.32" r="1.8"/><circle cx="609.33" cy="412.07" r="1.8"/><circle cx="611.41" cy="413.27" r="1.8"/><circle cx="613.49" cy="413.78" r="1.8"/><circle cx="615.58" cy="429.02" r="1.8"/><circle cx="624.60" cy="115.47" r="1.8"/><circle cx="626.68" cy="116.48" r="1.8"/><circle cx="628.75" cy="122.43" r="1.8"/><circle cx="630.83" cy="121.80" r="1.8"/><circle cx="632.90" cy="128.77" r="1.8"/><circle cx="634.98" cy="111.92" r="1.8"/><circle cx="637.05" cy="116.48" r="1.8"/><circle cx="639.13" cy="124.59" r="1.8"/><circle cx="641.20" cy="119.52" r="1.8"/><circle cx="643.28" cy="122.43" r="1.8"/><circle cx="645.35" cy="127.12" r="1.8"/><circle cx="647.43" cy="116.73" r="1.8"/><circle cx="649.50" cy="122.81" r="1.8"/><circle cx="651.57" cy="112.68" r="1.8"/><circle cx="653.65" cy="105.08" r="1.8"/><circle cx="655.72" cy="88.49" r="1.8"/><circle cx="657.80" cy="97.10" r="1.8"/><circle cx="659.87" cy="122.18" r="1.8"/><circle cx="661.95" cy="108.12" r="1.8"/><circle cx="664.02" cy="98.62" r="1.8"/><circle cx="666.10" cy="111.92" r="1.8"/><circle cx="668.17" cy="118.63" r="1.8"/><circle cx="670.25" cy="113.57" r="1.8"/><circle cx="672.32" cy="126.61" r="1.8"/><circle cx="674.40" cy="101.91" r="1.8"/><circle cx="676.47" cy="119.27" r="1.8"/><circle cx="678.55" cy="122.43" r="1.8"/><circle cx="680.62" cy="127.50" r="1.8"/><circle cx="682.70" cy="141.43" r="1.8"/><circle cx="684.77" cy="122.81" r="1.8"/><circle cx="693.61" cy="76.95" r="1.8"/><circle cx="695.68" cy="77.45" r="1.8"/><circle cx="697.76" cy="78.21" r="1.8"/><circle cx="699.83" cy="82.52" r="1.8"/><circle cx="701.91" cy="90.50" r="1.8"/><circle cx="703.98" cy="91.77" r="1.8"/><circle cx="706.06" cy="84.17" r="1.8"/><circle cx="708.14" cy="72.39" r="1.8"/><circle cx="710.21" cy="89.23" r="1.8"/><circle cx="712.29" cy="81.38" r="1.8"/><circle cx="714.36" cy="95.19" r="1.8"/><circle cx="716.44" cy="89.23" r="1.8"/><circle cx="718.51" cy="97.21" r="1.8"/><circle cx="720.59" cy="79.99" r="1.8"/><circle cx="722.67" cy="84.55" r="1.8"/><circle cx="724.74" cy="117.73" r="1.8"/><circle cx="726.82" cy="101.65" r="1.8"/><circle cx="728.89" cy="92.40" r="1.8"/><circle cx="730.97" cy="115.45" r="1.8"/><circle cx="733.04" cy="98.73" r="1.8"/><circle cx="735.12" cy="113.68" r="1.8"/><circle cx="737.20" cy="111.40" r="1.8"/><circle cx="739.27" cy="120.26" r="1.8"/><circle cx="741.35" cy="98.10" r="1.8"/><circle cx="743.42" cy="106.97" r="1.8"/><circle cx="745.50" cy="111.40" r="1.8"/><circle cx="747.58" cy="123.18" r="1.8"/><circle cx="749.65" cy="90.50" r="1.8"/><circle cx="751.73" cy="89.61" r="1.8"/><circle cx="753.80" cy="73.15" r="1.8"/><circle cx="762.92" cy="158.40" r="1.8"/><circle cx="765.00" cy="145.99" r="1.8"/><circle cx="767.07" cy="140.29" r="1.8"/><circle cx="769.15" cy="186.01" r="1.8"/><circle cx="771.23" cy="158.78" r="1.8"/><circle cx="773.31" cy="157.77" r="1.8"/><circle cx="775.39" cy="157.39" r="1.8"/><circle cx="777.46" cy="164.73" r="1.8"/><circle cx="779.54" cy="150.55" r="1.8"/><circle cx="781.62" cy="172.59" r="1.8"/><circle cx="783.70" cy="156.88" r="1.8"/><circle cx="785.78" cy="161.95" r="1.8"/><circle cx="787.85" cy="158.78" r="1.8"/><circle cx="789.93" cy="158.40" r="1.8"/><circle cx="792.01" cy="190.70" r="1.8"/><circle cx="794.09" cy="163.47" r="1.8"/><circle cx="796.17" cy="166.63" r="1.8"/><circle cx="798.25" cy="162.45" r="1.8"/><circle cx="800.32" cy="150.55" r="1.8"/><circle cx="802.40" cy="149.79" r="1.8"/><circle cx="804.48" cy="191.33" r="1.8"/><circle cx="806.56" cy="161.19" r="1.8"/><circle cx="808.64" cy="162.45" r="1.8"/><circle cx="810.71" cy="169.42" r="1.8"/><circle cx="812.79" cy="177.40" r="1.8"/><circle cx="814.87" cy="160.68" r="1.8"/><circle cx="816.95" cy="158.40" r="1.8"/><circle cx="819.03" cy="135.98" r="1.8"/><circle cx="821.10" cy="145.99" r="1.8"/><circle cx="823.18" cy="163.47" r="1.8"/><circle cx="832.14" cy="197.00" r="1.8"/><circle cx="834.22" cy="174.86" r="1.8"/><circle cx="836.29" cy="160.01" r="1.8"/><circle cx="838.37" cy="151.61" r="1.8"/><circle cx="840.45" cy="134.50" r="1.8"/><circle cx="842.53" cy="137.47" r="1.8"/><circle cx="844.60" cy="156.52" r="1.8"/><circle cx="846.68" cy="158.57" r="1.8"/><circle cx="848.76" cy="165.43" r="1.8"/><circle cx="850.84" cy="159.29" r="1.8"/><circle cx="852.92" cy="163.69" r="1.8"/><circle cx="854.99" cy="202.84" r="1.8"/><circle cx="857.07" cy="220.25" r="1.8"/><circle cx="859.15" cy="203.66" r="1.8"/><circle cx="861.23" cy="194.64" r="1.8"/><circle cx="863.31" cy="182.97" r="1.8"/><circle cx="865.38" cy="200.07" r="1.8"/><circle cx="867.46" cy="220.86" r="1.8"/><circle cx="869.54" cy="212.36" r="1.8"/><circle cx="871.62" cy="220.35" r="1.8"/><circle cx="873.70" cy="214.92" r="1.8"/><circle cx="875.77" cy="203.86" r="1.8"/><circle cx="877.85" cy="222.91" r="1.8"/><circle cx="879.93" cy="224.14" r="1.8"/><circle cx="882.01" cy="209.60" r="1.8"/><circle cx="884.09" cy="211.85" r="1.8"/><circle cx="886.16" cy="197.00" r="1.8"/><circle cx="888.24" cy="204.99" r="1.8"/><circle cx="890.32" cy="224.65" r="1.8"/><circle cx="892.40" cy="229.57" r="1.8"/></g>
<line x1="26.33" x2="30.0" y1="490.50" y2="490.50" stroke="#333" stroke-width="1.5"/>
<text x="23.4" y="495.50" text-anchor="end" class="ax">0.7</text>
<line x1="26.33" x2="30.0" y1="388.11" y2="388.11" stroke="#333" stroke-width="1.5"/>
<text x="23.4" y="393.11" text-anchor="end" class="ax">0.8</text>
<line x1="26.33" x2="30.0" y1="285.72" y2="285.72" stroke="#333" stroke-width="1.5"/>
<text x="23.4" y="290.72" text-anchor="end" class="ax">0.9</text>
<line x1="26.33" x2="30.0" y1="183.33" y2="183.33" stroke="#333" stroke-width="1.5"/>
<text x="23.4" y="188.33" text-anchor="end" class="ax">1.0</text>
<line x1="26.33" x2="30.0" y1="80.94" y2="80.94" stroke="#333" stroke-width="1.5"/>
<text x="23.4" y="85.94" text-anchor="end" class="ax">1.1</text>
<line x1="102.15" x2="102.15" y1="511.7" y2="515.80" stroke="#333" stroke-width="1.5"/>
<text x="102.15" y="528.2" text-anchor="middle" class="ax">Jan</text>
<line x1="171.15" x2="171.15" y1="511.7" y2="515.80" stroke="#333" stroke-width="1.5"/>
<text x="171.15" y="528.2" text-anchor="middle" class="ax">Feb</text>
<line x1="240.15" x2="240.15" y1="511.7" y2="515.80" stroke="#333" stroke-width="1.5"/>
<text x="240.15" y="528.2" text-anchor="middle" class="ax">Mar</text>
<line x1="309.15" x2="309.15" y1="511.7" y2="515.80" stroke="#333" stroke-width="1.5"/>
<text x="309.15" y="528.2" text-anchor="middle" class="ax">Apr</text>
<line x1="378.15" x2="378.15" y1="511.7" y2="515.80" stroke="#333" stroke-width="1.5"/>
<text x="378.15" y="528.2" text-anchor="middle" class="ax">May</text>
<line x1="447.15" x2="447.15" y1="511.7" y2="515.80" stroke="#333" stroke-width="1.5"/>
<text x="447.15" y="528.2" text-anchor="middle" class="ax">Jun</text>
<line x1="516.15" x2="516.15" y1="511.7" y2="515.80" stroke="#333" stroke-width="1.5"/>
<text x="516.15" y="528.2" text-anchor="middle" class="ax">Jul</text>
<line x1="585.15" x2="585.15" y1="511.7" y2="515.80" stroke="#333" stroke-width="1.5"/>
<text x="585.15" y="528.2" text-anchor="middle" class="ax">Aug</text>
<line x1="654.15" x2="654.15" y1="511.7" y2="515.80" stroke="#333" stroke-width="1.5"/>
<text x="654.15" y="528.2" text-anchor="middle" class="ax">Sep</text>
<line x1="723.15" x2="723.15" y1="511.7" y2="515.80" stroke="#333" stroke-width="1.5"/>
<text x="723.15" y="528.2" text-anchor="middle" class="ax">Oct</text>
<line x1="792.15" x2="792.15" y1="511.7" y2="515.80" stroke="#333" stroke-width="1.5"/>
<text x="792.15" y="528.2" text-anchor="middle" class="ax">Nov</text>
<line x1="861.15" x2="861.15" y1="511.7" y2="515.80" stroke="#333" stroke-width="1.5"/>
<text x="861.15" y="528.2" text-anchor="middle" class="ax">Dec</text>
<text x="30.0" y="20.0" class="title">SI ratio</text>
</svg>
</body></html>
